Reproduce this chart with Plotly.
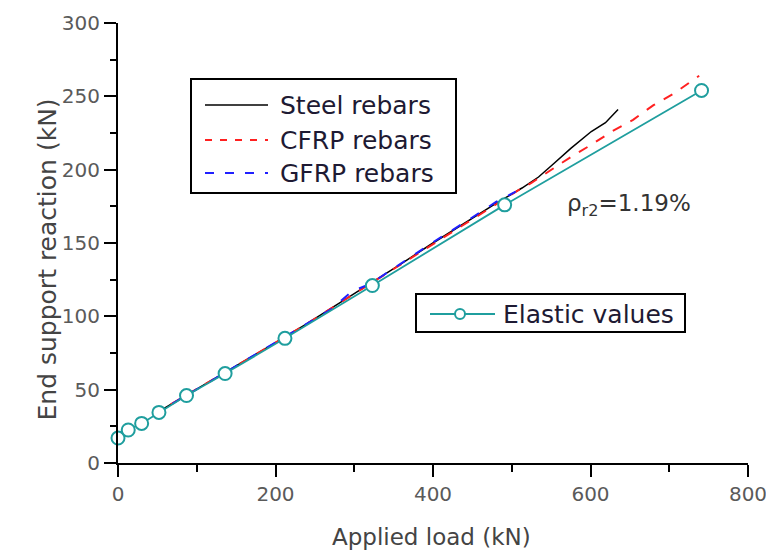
import plotly.graph_objects as go

# ---- data: end support reaction vs applied load ----
elastic_load = [0, 13, 30, 52, 87, 136, 212, 323, 491, 741]
elastic_reac = [17, 22.5, 27, 34.5, 46, 61, 85, 121, 176, 254]

steel_load = [45, 80, 120, 160, 200, 240, 280, 320, 360, 400, 440, 480, 513, 534, 551, 575, 601, 619, 635]
steel_reac = [33, 44, 57, 69.5, 82, 95, 108.5, 122.5, 136, 150, 163.5, 177, 187.5, 195, 203, 214.5, 226, 232, 241]

cfrp_load = [45, 80, 120, 160, 200, 240, 280, 320, 360, 400, 440, 480, 510, 525, 551, 576, 601, 627, 654, 680, 706, 738]
cfrp_reac = [33, 44, 57, 69, 82, 95, 108.5, 122, 135.5, 149.5, 163, 176.5, 186.5, 191, 200, 209, 217, 226, 234, 244, 252, 264]

gfrp_load = [45, 80, 120, 160, 200, 240, 270, 297, 320, 360, 400, 440, 480, 505]
gfrp_reac = [32.5, 44, 56.5, 69.5, 82, 95, 104.5, 117, 122, 136.5, 150.5, 164, 178, 185]

x_ticks = [0, 200, 400, 600, 800]
y_ticks = [0, 50, 100, 150, 200, 250, 300]

legend_names = ["Steel rebars", "CFRP rebars", "GFRP rebars"]
elastic_name = "Elastic values"
ratio_label = "ρ<sub>r2</sub>=1.19%"

# ---- layout geometry (pixels) ----
W, H = 766, 551
ML, MR, MT, MB = 118, 18, 23, 88
PW, PH = W - ML - MR, H - MT - MB
FONT = "DejaVu Sans"
TEAL = "#1f9e9e"


def px(x):
    return (x - ML) / PW


def py(y):
    return (H - MB - y) / PH


fig = go.Figure()

fig.add_trace(go.Scatter(x=steel_load, y=steel_reac, mode="lines", name=legend_names[0],
                         line=dict(color="black", width=1.5), showlegend=False))
fig.add_trace(go.Scatter(x=cfrp_load, y=cfrp_reac, mode="lines", name=legend_names[1],
                         line=dict(color="#ff2020", width=2, dash="10px,10px"), showlegend=False))
fig.add_trace(go.Scatter(x=gfrp_load, y=gfrp_reac, mode="lines", name=legend_names[2],
                         line=dict(color="#2020ff", width=2, dash="10px,12px"), showlegend=False))
fig.add_trace(go.Scatter(x=elastic_load, y=elastic_reac, mode="lines+markers", name=elastic_name,
                         line=dict(color=TEAL, width=1.8),
                         marker=dict(symbol="circle", size=13, color="white",
                                     line=dict(color=TEAL, width=2)),
                         cliponaxis=False, showlegend=False))

axis_common = dict(showgrid=False, zeroline=False, showline=True, linewidth=2, linecolor="black",
                   ticks="outside", ticklen=12, tickwidth=2, tickcolor="black",
                   ticklabeloverflow="allow", automargin=False,
                   tickfont=dict(family=FONT, size=20, color="#5a5a5a"))

fig.update_xaxes(range=[0, 800], tickvals=x_ticks, ticktext=[str(v) for v in x_ticks],
                 minor=dict(ticks="outside", dtick=100, ticklen=7, tickwidth=2, tickcolor="black"),
                 **axis_common)
fig.update_yaxes(range=[0, 300], tickvals=y_ticks, ticktext=[str(v) for v in y_ticks],
                 minor=dict(ticks="outside", dtick=25, ticklen=6, tickwidth=2, tickcolor="black"),
                 **axis_common)

shapes = []
annotations = []

# axis titles
annotations.append(dict(x=px(431), y=py(537), xref="paper", yref="paper", text="Applied load (kN)",
                        showarrow=False, xanchor="center", yanchor="middle",
                        font=dict(family=FONT, size=23, color="#444444")))
annotations.append(dict(x=px(30), y=py(260), xref="paper", yref="paper", text="End support reaction (kN)",
                        textangle=-90, showarrow=False,
                        font=dict(family=FONT, size=25, color="#444444")))

# legend box for the experimental curves
shapes.append(dict(type="rect", xref="paper", yref="paper", x0=px(191), x1=px(456), y0=py(193), y1=py(79),
                   line=dict(color="black", width=2), fillcolor="white", layer="above"))
legend_rows = [(105, "black", "solid", 1.5), (140, "#ff2020", "7px,8px", 2), (173, "#2020ff", "9px,11px", 2)]
for name, (yy, col, dash, w) in zip(legend_names, legend_rows):
    shapes.append(dict(type="line", xref="paper", yref="paper", x0=px(205), x1=px(268), y0=py(yy), y1=py(yy),
                       line=dict(color=col, width=w, dash=dash), layer="above"))
    annotations.append(dict(x=px(278), y=py(yy), xref="paper", yref="paper", text=name, showarrow=False,
                            xanchor="left", yanchor="middle",
                            font=dict(family=FONT, size=25, color="#1e1a33")))

# legend box for the elastic values
shapes.append(dict(type="rect", xref="paper", yref="paper", x0=px(416), x1=px(685), y0=py(332), y1=py(294),
                   line=dict(color="black", width=2), fillcolor="white", layer="above"))
shapes.append(dict(type="line", xref="paper", yref="paper", x0=px(430), x1=px(495), y0=py(314), y1=py(314),
                   line=dict(color=TEAL, width=2), layer="above"))
shapes.append(dict(type="circle", xref="paper", yref="paper", x0=px(455), x1=px(465), y0=py(319), y1=py(309),
                   line=dict(color=TEAL, width=2), fillcolor="white", layer="above"))
annotations.append(dict(x=px(501), y=py(314), xref="paper", yref="paper", text=elastic_name, showarrow=False,
                        xanchor="left", yanchor="middle",
                        font=dict(family=FONT, size=25, color="#1e1a33")))

# reinforcement ratio label
annotations.append(dict(x=px(565), y=py(205), xref="paper", yref="paper", text=ratio_label, showarrow=False,
                        xanchor="left", yanchor="middle",
                        font=dict(family=FONT, size=23, color="#333333")))

fig.update_layout(width=W, height=H, autosize=False,
                  margin=dict(l=ML, r=MR, t=MT, b=MB, pad=0),
                  paper_bgcolor="white", plot_bgcolor="white",
                  shapes=shapes, annotations=annotations, showlegend=False)

fig.write_html("out.html")
